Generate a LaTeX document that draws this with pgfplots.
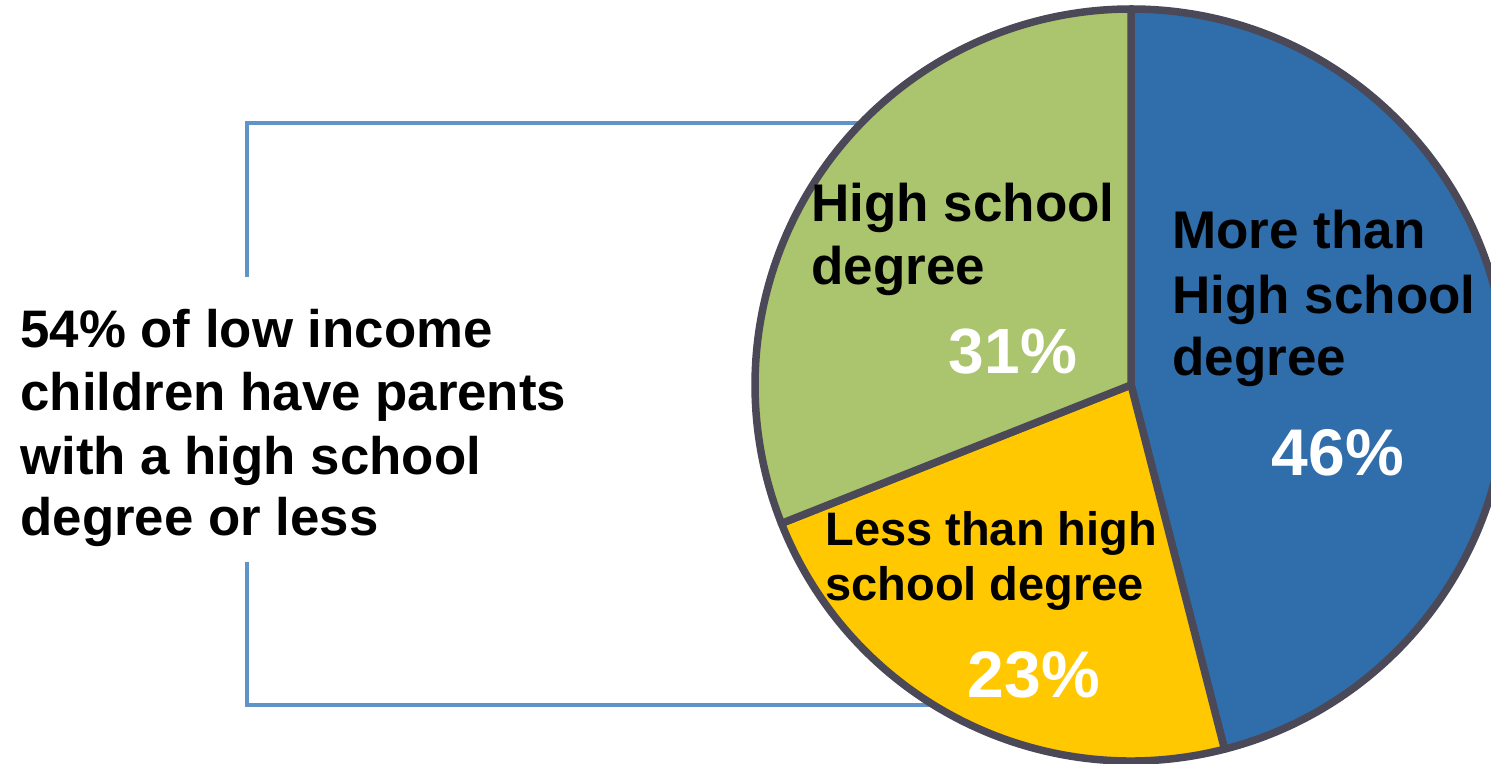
\documentclass[border=0pt]{standalone}
\usepackage{pgfplots}
\pgfplotsset{compat=1.18}
\usepackage{fontspec}
\setmainfont{Liberation Sans}

\definecolor{pieblue}{RGB}{47,110,170}
\definecolor{pieyellow}{RGB}{255,200,0}
\definecolor{piegreen}{RGB}{171,196,110}
\definecolor{pieedge}{RGB}{75,72,88}
\definecolor{bracket}{RGB}{96,148,200}

% shares, clockwise from 12 o'clock
% 46 more than HS, 23 less than HS, 31 HS degree
\newcommand{\lbl}[4]{\node[anchor=base west,inner sep=0pt,font=\fontsize{#3}{#3}\selectfont\bfseries] at (axis cs:#1,#2) {#4};}
\newcommand{\pct}[4]{\node[anchor=base,inner sep=0pt,text=white,font=\fontsize{#3}{#3}\selectfont\bfseries] at (axis cs:#1,#2) {#4};}

\begin{document}
\begin{tikzpicture}
\begin{axis}[
    scale only axis,
    width=745.5pt, height=382pt,
    xmin=0, xmax=1491, ymin=0, ymax=764,
    hide axis,
  ]
  % bracket
  \draw[bracket, line width=2pt] (axis cs:247,487) -- (axis cs:247,641) -- (axis cs:860,641);
  \draw[bracket, line width=2pt] (axis cs:247,202) -- (axis cs:247,59) -- (axis cs:940,59);

  % pie slices
  \def\start{90}
  \pgfplotsforeachungrouped \v/\c in {46/pieblue, 23/pieyellow, 31/piegreen}{
    \pgfmathsetmacro{\stop}{\start-3.6*\v}
    \edef\temp{\noexpand\fill[\c, draw=pieedge, line width=3.75pt, line join=round]
      (axis cs:1131,379) -- ++(\start:188pt)
      arc[start angle=\start, end angle=\stop, radius=188pt] -- cycle;}
    \temp
    \global\let\start\stop
  }

  % slice labels
  \lbl{811}{542}{26.5pt}{High school}
  \lbl{811}{479}{26.5pt}{degree}
  \pct{1013}{390}{32pt}{31\%}

  \lbl{1172}{515}{26.5pt}{More than}
  \lbl{1172}{450}{26.5pt}{High school}
  \lbl{1172}{388}{26.5pt}{degree}
  \pct{1338}{288}{33pt}{46\%}

  \lbl{825}{218}{23.5pt}{Less than high}
  \lbl{825}{163}{23.5pt}{school degree}
  \pct{1034}{66}{33pt}{23\%}

  % left text
  \lbl{20}{416}{26.4pt}{54\% of low income}
  \lbl{20}{353}{26.4pt}{children have parents}
  \lbl{20}{289}{26.4pt}{with a high school}
  \lbl{20}{228}{26.4pt}{degree or less}
\end{axis}
\pgfresetboundingbox
\path (current axis.south west) rectangle (current axis.north east);
\end{tikzpicture}
\end{document}
